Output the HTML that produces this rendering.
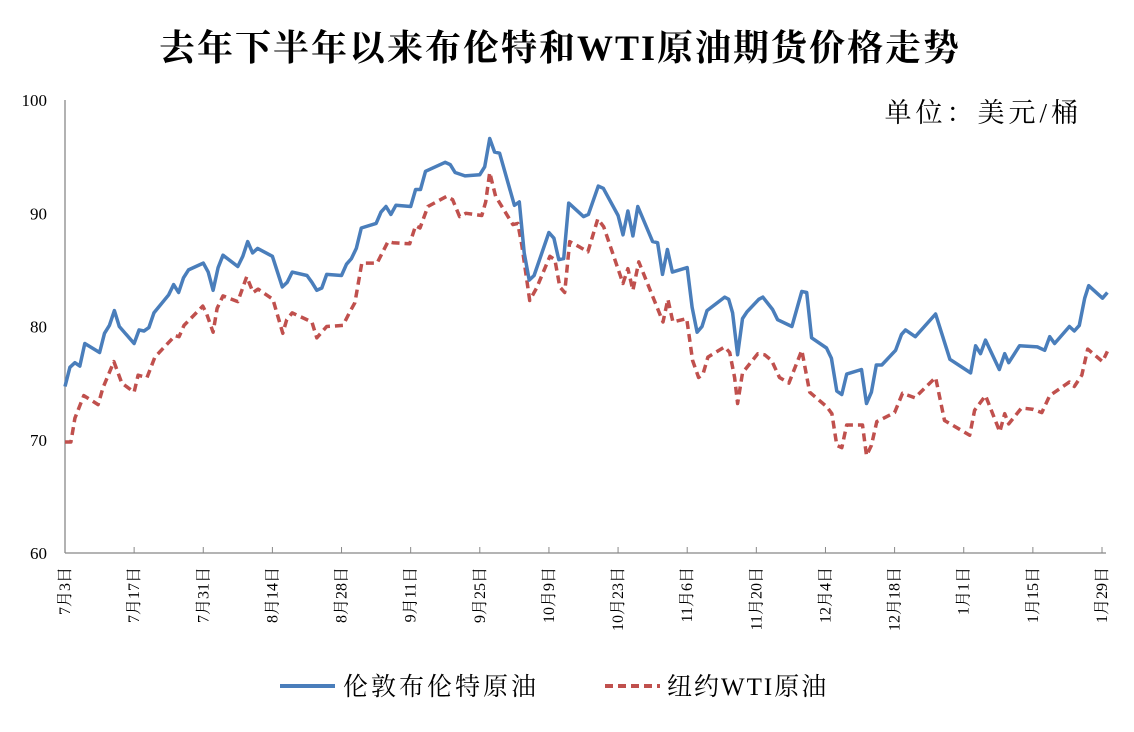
<!DOCTYPE html>
<html><head><meta charset="utf-8"><style>
body{margin:0;background:#fff;}
svg{display:block;}
</style></head><body>
<svg width="1134" height="732" viewBox="0 0 1134 732" xmlns="http://www.w3.org/2000/svg">
<text x="560" y="60" text-anchor="middle" font-family="Liberation Serif, Noto Serif CJK SC, serif" font-size="36" font-weight="bold" letter-spacing="2" fill="#000">去年下半年以来布伦特和WTI原油期货价格走势</text>
<text x="1082" y="122" text-anchor="end" font-family="Liberation Serif, Noto Serif CJK SC, serif" font-size="27" letter-spacing="4" fill="#000">单位：美元/桶</text>
<g id="axes"></g>
<g id="series"></g>
<g>
<line x1="280" y1="686" x2="335" y2="686" stroke="#4a7ebb" stroke-width="4"/>
<text x="343" y="695" font-family="Liberation Serif, Noto Serif CJK SC, serif" font-size="25" letter-spacing="3">伦敦布伦特原油</text>
<line x1="605" y1="686" x2="660" y2="686" stroke="#c0504d" stroke-width="4" stroke-dasharray="8,5"/>
<text x="667" y="695" font-family="Liberation Serif, Noto Serif CJK SC, serif" font-size="25" letter-spacing="2">纽约WTI原油</text>
</g>
</svg>
<script>
const yTicks=[60,70,80,90,100];
const xTickDays=[0,14,28,42,56,70,84,98,112,126,140,154,168,182,196,210];
const xTickLabels=["7月3日","7月17日","7月31日","8月14日","8月28日","9月11日","9月25日","10月9日","10月23日","11月6日","11月20日","12月4日","12月18日","1月1日","1月15日","1月29日"];
const brentDays=[0,1,2,3,4,7,8,9,10,11,14,15,16,17,18,21,22,23,24,25,28,29,30,31,32,35,36,37,38,39,42,44,45,46,49,50,51,52,53,56,57,58,59,60,63,64,65,66,67,70,71,72,73,77,78,79,81,84,85,86,87,88,91,92,93,94,95,98,99,100,101,102,105,106,108,109,112,113,114,115,116,119,120,121,122,123,126,127,128,129,130,133.6,134.4,135.2,136.2,137.2,138.1,140.5,141.3,143.3,144.3,147.2,149.2,150.2,151.2,154.2,155.2,156.3,157.3,158.3,161.3,162.3,163.3,164.3,165.4,168.2,169.4,170.2,172.2,176.3,179.2,183.4,184.4,185.4,186.4,189.2,190.3,191.1,193.3,196.9,198.4,199.4,200.4,203.4,204.4,205.4,206.5,207.3,210.1,211.1];
const brentVals=[74.7,76.4,76.8,76.5,78.5,77.7,79.4,80.1,81.4,80.0,78.5,79.7,79.6,79.9,81.2,82.8,83.7,83.0,84.3,85.0,85.6,84.8,83.2,85.2,86.3,85.3,86.2,87.5,86.5,86.9,86.2,83.5,83.9,84.8,84.5,83.9,83.2,83.4,84.6,84.5,85.5,86.0,86.9,88.7,89.1,90.1,90.6,89.9,90.7,90.6,92.1,92.1,93.7,94.5,94.3,93.6,93.3,93.4,94.1,96.6,95.4,95.3,90.7,91.0,86.5,84.1,84.5,88.3,87.8,85.9,86.0,90.9,89.7,89.9,92.4,92.2,89.8,88.1,90.2,88.0,90.6,87.5,87.4,84.6,86.8,84.8,85.2,81.7,79.5,80.0,81.4,82.6,82.4,81.2,77.5,80.7,81.3,82.4,82.6,81.5,80.6,80.0,83.1,83.0,79.0,78.1,77.2,74.3,74.0,75.8,76.2,73.2,74.2,76.6,76.6,77.9,79.3,79.7,79.1,81.1,77.1,75.9,78.3,77.6,78.8,76.2,77.6,76.8,78.3,78.2,77.9,79.1,78.5,80.0,79.6,80.1,82.5,83.6,82.5,83.0];
const wtiDays=[0,1.2,2,3.8,6.7,7.7,9.9,11.5,14,14.8,16.6,18.2,22.3,23.1,24.1,27.9,28.7,30,30.8,32,35,36.8,38.1,39.1,42.1,44.1,44.9,46,50,51,53,56.3,57.7,58.7,60.1,63.2,65.4,66.4,69.8,71,71.9,73.5,77.3,78.5,79.9,81.2,84.4,85.2,86,87.2,90.7,91.7,92.5,94.1,95.5,98.2,99.2,100.2,101.2,102.2,104.3,105.9,107.9,109.1,113,114,115,116.2,121.1,122.1,123.1,125.9,127.1,128.3,129.2,130.2,133.6,134.6,135.6,136.2,137.2,140.3,141.7,143.1,144.7,146.6,149.2,150.8,154.3,155.3,156.3,157.3,158.3,161.5,162.3,163.3,164.4,168,169.6,172.1,176.3,178.1,183.2,184.2,186.4,189.3,190.3,191.1,193.7,195.9,197.8,199.4,203.4,204.4,205.9,207.1,210.1,211.1];
const wtiVals=[69.8,69.8,71.9,73.9,73.1,74.6,76.9,75.0,74.2,75.7,75.5,77.3,79.2,79.1,80.1,81.8,81.1,79.5,81.6,82.7,82.2,84.4,83.0,83.3,82.4,79.4,80.6,81.2,80.4,79.0,80.0,80.1,81.3,82.1,85.6,85.6,87.5,87.4,87.3,88.9,88.7,90.6,91.5,91.2,89.7,90.0,89.8,91.0,93.6,91.5,89.0,89.1,87.2,82.3,83.4,86.2,85.9,83.5,83.0,87.5,87.0,86.6,89.5,88.8,83.8,85.1,83.2,85.7,80.4,82.4,80.4,80.7,77.0,75.5,75.8,77.3,78.2,77.7,75.5,73.2,75.9,77.6,77.5,77.0,75.5,75.0,77.9,74.2,72.9,72.3,69.5,69.3,71.3,71.3,68.6,69.5,71.6,72.4,74.1,73.7,75.5,71.7,70.4,72.6,73.9,70.7,72.3,71.4,72.8,72.7,72.4,73.9,75.1,74.7,75.7,78.0,76.9,77.8];

const NS="http://www.w3.org/2000/svg";
const X0=65,X1=1106,Y0=553,Y1=100,pxPerDay=(1102-65)/210;
function xs(d){return X0+d*pxPerDay;}
function ys(v){return Y0-(v-60)/40*(Y0-Y1);}
function mk(tag,attrs,parent){const e=document.createElementNS(NS,tag);for(const k in attrs)e.setAttribute(k,attrs[k]);parent.appendChild(e);return e;}
const axes=document.getElementById('axes');
const ya=mk('line',{x1:X0,y1:Y1,x2:X0,y2:Y0,stroke:'#888','stroke-width':1.3},axes);


const xa=mk('line',{x1:X0,y1:Y0,x2:X1,y2:Y0,stroke:'#888','stroke-width':1.3},axes);


yTicks.forEach(v=>{
  const t=mk('text',{x:47,y:ys(v)+6,'text-anchor':'end','font-family':'Liberation Serif, serif','font-size':17},axes);
  t.textContent=v;
  
  
});
xTickDays.forEach((d,i)=>{
  const x=xs(d);
  if(i>0){const tk=mk('line',{x1:x,y1:Y0,x2:x,y2:Y0-6,stroke:'#888','stroke-width':1},axes);
  
  }
  const t=mk('text',{x:0,y:0,'text-anchor':'end','font-family':'Liberation Serif, Noto Serif CJK SC, serif','font-size':16,transform:`translate(${x+5},567) rotate(-90)`},axes);
  t.textContent=xTickLabels[i];
  
  
});
const ser=document.getElementById('series');
function pts(ds,vs){return ds.map((d,i)=>xs(d).toFixed(1)+','+ys(vs[i]).toFixed(1)).join(' ');}
const w=mk('polyline',{points:pts(wtiDays,wtiVals),fill:'none',stroke:'#c0504d','stroke-width':3.5,'stroke-dasharray':'8,5','stroke-linejoin':'round'},ser);


const b=mk('polyline',{points:pts(brentDays,brentVals),fill:'none',stroke:'#4a7ebb','stroke-width':3.5,'stroke-linejoin':'round'},ser);


</script>
</body></html>
